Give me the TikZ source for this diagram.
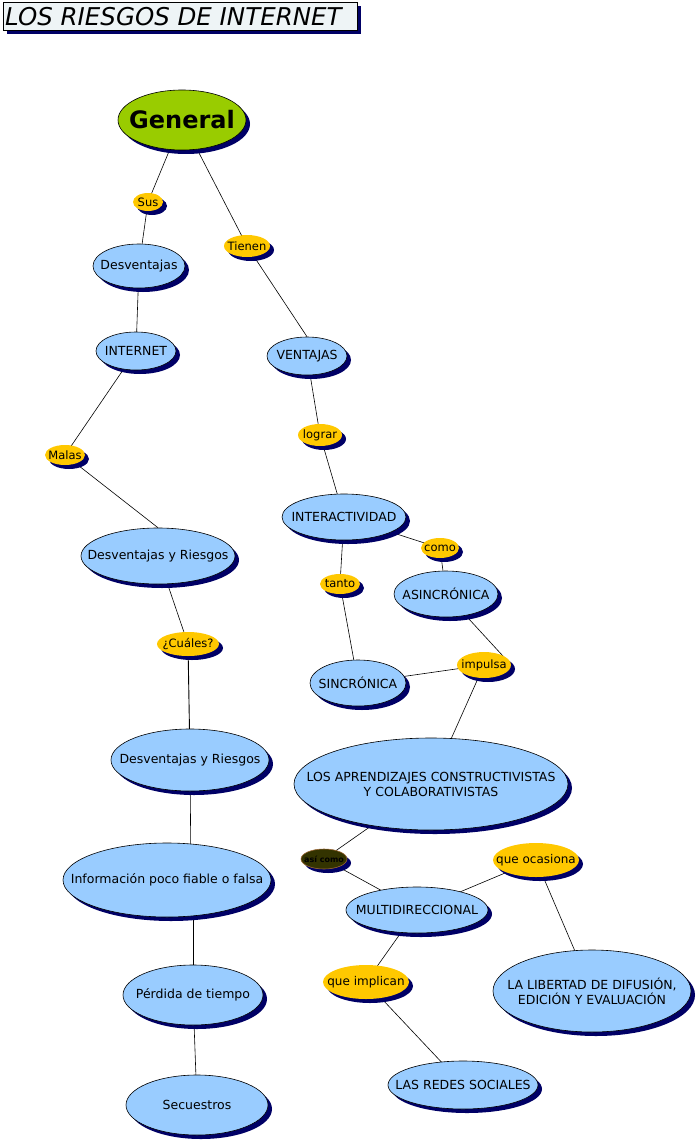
\documentclass[tikz,border=0pt]{standalone}
\usepackage{fontspec}
\setmainfont{DejaVu Sans}
\usetikzlibrary{shapes.geometric,shadows,backgrounds}
\definecolor{cblue}{HTML}{99CCFF}
\definecolor{cgold}{HTML}{FFC800}
\definecolor{cgreen}{HTML}{99CC00}
\definecolor{cshadow}{HTML}{000066}
\definecolor{ctitle}{HTML}{EEF4F6}
\definecolor{colive}{HTML}{333300}
\definecolor{cbrown}{HTML}{996633}
\tikzset{
  shad/.style={drop shadow={shadow xshift=4pt,shadow yshift=-4pt,fill=cshadow,opacity=1}},
  concept/.style={ellipse,draw=black,line width=0.6pt,fill=cblue,inner sep=0pt,shad},
  linkw/.style={ellipse,draw=none,fill=cgold,inner sep=0pt,shad},
  ctext/.style={font=\fontsize{12.5}{15}\selectfont,align=center,inner sep=0pt},
  ltext/.style={font=\fontsize{11.5}{13}\selectfont,inner sep=0pt},
  conn/.style={draw=black,line width=0.6pt},
}
\begin{document}
\begin{tikzpicture}[x=1pt,y=-1pt]
\useasboundingbox (0,0) rectangle (696,1142);
% title
\node[draw=black,line width=0.6pt,fill=ctitle,shad,minimum width=354pt,minimum height=28pt,inner sep=0pt,anchor=north west] (title) at (3,2) {};
\node[anchor=west,inner sep=0pt,font=\fontsize{24.5}{26}\selectfont\itshape] (ttext) at ([xshift=2pt]title.west) {LOS RIESGOS DE INTERNET};
% concepts
\node[concept,fill=cgreen,minimum width=128pt,minimum height=60pt,label={[inner sep=0pt,font=\fontsize{24}{26}\selectfont\bfseries]center:General}] (gen) at (182,120) {};
\node[concept,minimum width=92pt,minimum height=44pt,label={[ctext]center:Desventajas}] (desv) at (139,266) {};
\node[concept,minimum width=80pt,minimum height=38pt,label={[ctext]center:INTERNET}] (inet) at (136,351) {};
\node[concept,minimum width=80pt,minimum height=38pt,label={[ctext]center:VENTAJAS}] (vent) at (307,356) {};
\node[concept,minimum width=124pt,minimum height=46pt,label={[ctext]center:INTERACTIVIDAD}] (inter) at (344,517) {};
\node[concept,minimum width=104pt,minimum height=46pt,label={[ctext]center:ASINCRÓNICA}] (asin) at (446,594) {};
\node[concept,minimum width=154pt,minimum height=56pt,label={[ctext]center:Desventajas y Riesgos}] (dyr1) at (158,556) {};
\node[concept,minimum width=96pt,minimum height=46pt,label={[ctext]center:SINCRÓNICA}] (sinc) at (358,683) {};
\node[concept,minimum width=158pt,minimum height=62pt,label={[ctext]center:Desventajas y Riesgos}] (dyr2) at (190,760) {};
\node[concept,minimum width=274pt,minimum height=92pt,label={[ctext]center:LOS APRENDIZAJES CONSTRUCTIVISTAS\\Y COLABORATIVISTAS}] (apr) at (431,784) {};
\node[concept,minimum width=208pt,minimum height=74pt,label={[ctext]center:Información poco fiable o falsa}] (info) at (167,880) {};
\node[concept,minimum width=142pt,minimum height=46pt,label={[ctext]center:MULTIDIRECCIONAL}] (multi) at (417,910) {};
\node[concept,minimum width=140pt,minimum height=60pt,label={[ctext]center:Pérdida de tiempo}] (perd) at (193,995) {};
\node[concept,minimum width=198pt,minimum height=82pt,label={[ctext]center:LA LIBERTAD DE DIFUSIÓN,\\EDICIÓN Y EVALUACIÓN}] (lib) at (592,991) {};
\node[concept,minimum width=150pt,minimum height=48pt,label={[ctext]center:LAS REDES SOCIALES}] (redes) at (463,1085) {};
\node[concept,minimum width=142pt,minimum height=60pt,label={[ctext]center:Secuestros}] (secu) at (197,1105) {};
% linking words
\node[linkw,minimum width=30pt,minimum height=18pt,label={[ltext]center:Sus}] (sus) at (148,202) {};
\node[linkw,minimum width=46pt,minimum height=22pt,label={[ltext]center:Tienen}] (tien) at (247,246) {};
\node[linkw,minimum width=40pt,minimum height=20pt,label={[ltext]center:Malas}] (malas) at (65,455) {};
\node[linkw,minimum width=44pt,minimum height=22pt,label={[ltext]center:lograr}] (lograr) at (320,435) {};
\node[linkw,minimum width=38pt,minimum height=20pt,label={[ltext]center:como}] (como) at (440,548) {};
\node[linkw,minimum width=40pt,minimum height=20pt,label={[ltext]center:tanto}] (tanto) at (340,584) {};
\node[linkw,minimum width=62pt,minimum height=24pt,label={[ltext]center:¿Cuáles?}] (cuales) at (188,644) {};
\node[linkw,minimum width=54pt,minimum height=26pt,label={[ltext]center:impulsa}] (impul) at (484,665) {};
\node[linkw,draw=cbrown,line width=0.6pt,fill=colive,minimum width=46pt,minimum height=20pt,label={[inner sep=0pt,font=\fontsize{8}{9}\selectfont\bfseries]center:así como}] (asi) at (324,859) {};
\node[linkw,minimum width=86pt,minimum height=34pt,label={[inner sep=0pt,font=\fontsize{12}{14}\selectfont]center:que ocasiona}] (ocas) at (536,860) {};
\node[linkw,minimum width=86pt,minimum height=34pt,label={[inner sep=0pt,font=\fontsize{12}{14}\selectfont]center:que implican}] (impl) at (366,982) {};
% connectors
\begin{scope}[on background layer]
\fill[white] (0,0) rectangle (696,1142);
\draw[conn] (gen.center) -- (sus.center);
\draw[conn] (sus.center) -- (desv.center);
\draw[conn] (gen.center) -- (tien.center);
\draw[conn] (tien.center) -- (vent.north);
\draw[conn] (desv.center) -- (inet.center);
\draw[conn] (inet.center) -- (malas.center);
\draw[conn] (malas.center) -- (dyr1.north);
\draw[conn] (dyr1.center) -- (cuales.center);
\draw[conn,line width=0.9pt] (cuales.center) -- (dyr2.center);
\draw[conn] (dyr2.center) -- ([xshift=1pt]dyr2.center |- info.center);
\draw[conn] (perd.center |- info.center) -- (perd.center);
\draw[conn] (perd.center) -- (secu.center);
\draw[conn] (vent.center) -- (lograr.center);
\draw[conn] (lograr.center) -- (inter.center);
\draw[conn] (inter.center) -- (como.center);
\draw[conn] (como.center) -- (asin.center);
\draw[conn] (inter.center) -- (tanto.center);
\draw[conn] (tanto.center) -- (sinc.center);
\draw[conn] (asin.center) -- (impul.east);
\draw[conn] (sinc.center) -- (impul.center);
\draw[conn] (impul.center) -- (apr.center);
\draw[conn] (apr.center) -- (asi.center);
\draw[conn] (asi.center) -- (multi.center);
\draw[conn] (multi.center) -- (ocas.center);
\draw[conn] (ocas.center) -- (lib.center);
\draw[conn] (multi.center) -- (impl.center);
\draw[conn] (impl.center) -- (redes.center);
\end{scope}
\end{tikzpicture}
\end{document}
